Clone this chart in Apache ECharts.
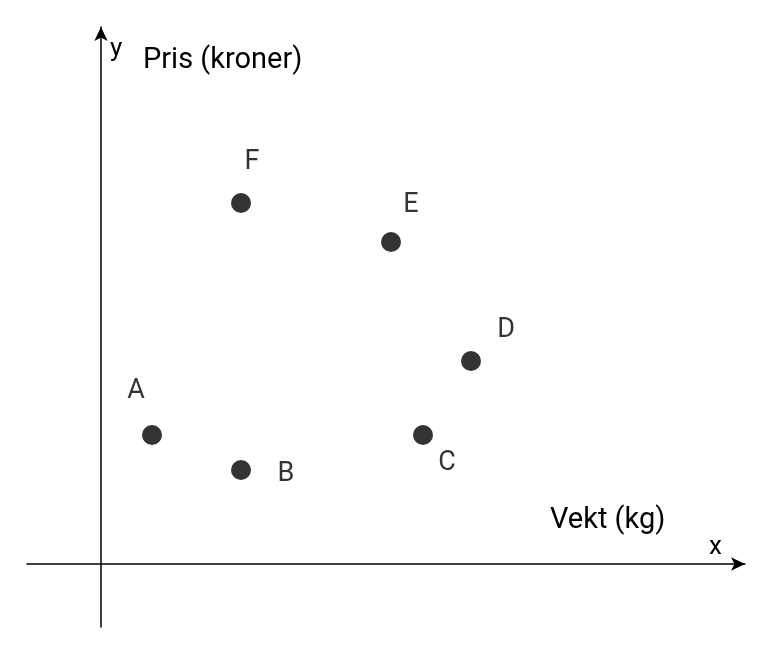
<!DOCTYPE html>
<html><head><meta charset="utf-8">
<script src="https://cdn.jsdelivr.net/npm/echarts@6/dist/echarts.min.js"></script>
<style>html,body{margin:0;background:#fff}#c{width:780px;height:660px}</style>
</head><body><div id="c"></div>
<script>
const names = ['A','B','C','D','E','F'];
const xs = [5.1, 14, 32.2, 37, 29, 14];
const ys = [12.9, 9.4, 12.9, 20.3, 32.2, 36.1];
const labelOffsets = [[-16,-44],[45,4],[24,28],[35,-31],[20,-37],[11,-41]];
const axisTitles = {x:'x', y:'y', xName:'Vekt (kg)', yName:'Pris (kroner)'};

const chart = echarts.init(document.getElementById('c'));
const axisCommon = {
  type:'value', axisTick:{show:false}, axisLabel:{show:false}, splitLine:{show:false},
  axisLine:{onZero:true, lineStyle:{color:'#000', width:1.5}, symbol:['none','arrow'], symbolSize:[10,14]}
};
chart.setOption({
  animation:false,
  grid:{left:27, right:35, top:27, bottom:33},
  xAxis:Object.assign({min:-7.4, max:64.4}, axisCommon),
  yAxis:Object.assign({min:-6.3, max:53.7}, axisCommon),
  series:[{
    type:'scatter', symbolSize:20, itemStyle:{color:'#000'},
    data: names.map((n,i)=>({name:n, value:[xs[i],ys[i]],
      label:{show:true, position:'inside', offset:labelOffsets[i], formatter:n,
        color:'#000', fontSize:27, fontFamily:'Roboto'}}))
  }],
  graphic:[
    {type:'text', left:709, top:534, style:{text:axisTitles.x, fontSize:26, fontFamily:'Roboto', fill:'#000'}},
    {type:'text', left:110, top:36, style:{text:axisTitles.y, fontSize:26, fontFamily:'Roboto', fill:'#000'}},
    {type:'text', left:550, top:506, style:{text:axisTitles.xName, fontSize:29, fontFamily:'Roboto', fill:'#000'}},
    {type:'text', left:143, top:46, style:{text:axisTitles.yName, fontSize:29, fontFamily:'Roboto', fill:'#000'}}
  ]
});
</script></body></html>
